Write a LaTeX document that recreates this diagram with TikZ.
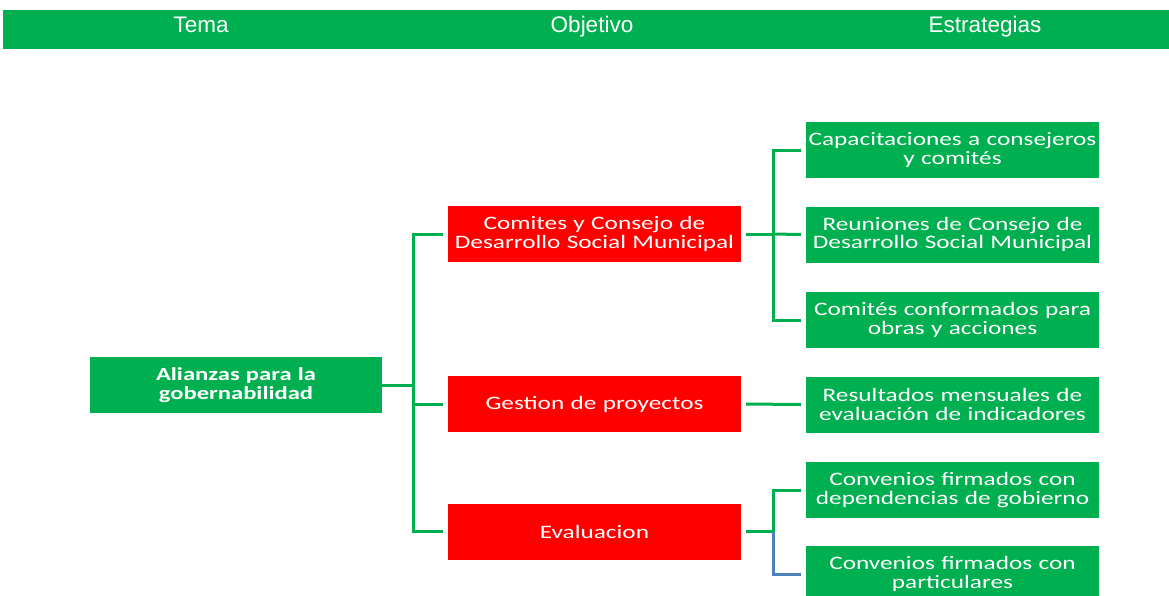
\documentclass[tikz,border=0pt]{standalone}
\usepackage{fontspec}
\setmainfont{Carlito}
\newfontfamily\hdrfont{Liberation Sans}
\newfontfamily\boxfont[FakeStretch=1.33]{Carlito}
\definecolor{grn}{HTML}{00B050}
\definecolor{rd}{HTML}{FF0000}
\definecolor{blu}{HTML}{4F81BD}
\tikzset{
  base/.style={rectangle, draw=none, text=white, minimum height=56pt, text width=293pt,
    inner xsep=0pt, inner ysep=0pt, align=center, font=\boxfont\fontsize{19}{18.5}\selectfont},
  gbox/.style={base, fill=grn},
  rbox/.style={base, fill=rd},
  hdrtxt/.style={text=white, font=\hdrfont\fontsize{22.5}{24}\selectfont, inner sep=0pt, anchor=base},
  conn/.style={draw=grn, line width=3pt},
  bconn/.style={draw=blu, line width=3pt},
}
\begin{document}
\begin{tikzpicture}[x=1pt, y=-1pt]
\useasboundingbox (0,0) rectangle (1169,595);
% header
\node[fill=grn, minimum width=1166pt, minimum height=39pt, inner sep=0pt] (header) at (586,29.5) {};
\node[hdrtxt] (tema) at (201,32.5) {Tema};
\node[hdrtxt] (obj) at (592,32.5) {Objetivo};
\node[hdrtxt] (estr) at (985,32.5) {Estrategias};
% nodes
\node[gbox, text width=292pt, font=\boxfont\bfseries\fontsize{18.5}{19}\selectfont] (alianza) at (236,385) {Alianzas para la\\gobernabilidad};
\node[rbox] (comites) at (594.5,234) {Comites y Consejo de\\Desarrollo Social Municipal};
\node[rbox] (gestion) at (594.5,404) {Gestion de proyectos};
\node[rbox] (evaluacion) at (594.5,531.5) {Evaluacion};
\node[gbox] (cap) at (952.5,150) {Capacitaciones a consejeros\\y comités};
\node[gbox] (reun) at (952.5,234.5) {Reuniones de Consejo de\\Desarrollo Social Municipal};
\node[gbox] (comf) at (952.5,320) {Comités conformados para\\obras y acciones};
\node[gbox] (result) at (952.5,404.5) {Resultados mensuales de\\evaluación de indicadores};
\node[gbox] (convdep) at (952.5,490) {Convenios firmados con\\dependencias de gobierno};
\node[gbox] (convpart) at (952.5,574) {Convenios firmados con\\particulares};
% trunk coordinates
\coordinate (lt) at (413,385);
\coordinate (mt) at (773,234);
\coordinate (et) at (773,531.5);
% left connectors
\draw[conn] (alianza.east) -- (lt);
\draw[conn] ([xshift=-5pt]comites.west) -| (lt) |- ([xshift=-5pt]evaluacion.west);
\draw[conn] (lt |- gestion.west) -- ([xshift=-5pt]gestion.west);
% middle connectors
\draw[conn] ([xshift=5pt]comites.east) -- (mt);
\draw[conn] ([xshift=-5pt]cap.west) -| (mt) |- ([xshift=-5pt]comf.west);
\draw[conn] (mt) -- ([xshift=-5pt]reun.west);
\draw[conn] ([xshift=5pt]gestion.east) -- ([xshift=-5pt]result.west);
\draw[conn] ([xshift=5pt]evaluacion.east) -- (et);
\draw[bconn] (et) |- ([xshift=-5pt]convpart.west);
\draw[conn] (et) |- ([xshift=-5pt]convdep.west);
\end{tikzpicture}
\end{document}
